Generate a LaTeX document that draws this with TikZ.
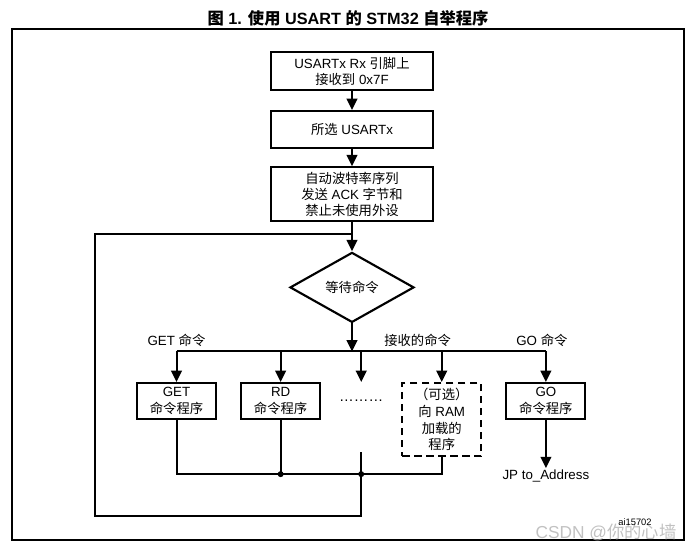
\documentclass[tikz,border=0pt]{standalone}
\usepackage{fontspec}
\setmainfont{Liberation Sans}
\newfontfamily\cjk{Noto Sans CJK SC}
\usetikzlibrary{shapes.geometric, arrows.meta, positioning, calc}

\newcommand{\zh}[1]{{\cjk #1}}

\begin{document}
\begin{tikzpicture}[
    x=0.75pt, y=-0.75pt,
    font=\fontsize{10}{12}\selectfont,
    stepbox/.style={rectangle, draw=black, line width=1.6pt, minimum width=121.5pt, align=center, inner sep=1pt},
    cmdbox/.style={rectangle, draw=black, line width=1.6pt, minimum width=59.25pt, minimum height=27pt, align=center, inner sep=1pt, anchor=north, font=\fontsize{10}{12.5}\selectfont},
    optbox/.style={cmdbox, dash pattern=on 5.5pt off 3.5pt, minimum height=54.75pt},
    decision/.style={diamond, draw=black, line width=1.6pt, minimum width=93pt, minimum height=52.5pt, inner sep=0pt},
    link/.style={line width=1.5pt, draw=black},
    arrow/.style={link, -{Triangle[length=8.5pt, width=8pt]}},
    junction/.style={circle, fill=black, inner sep=0pt, minimum size=4.5pt},
    caption/.style={inner sep=1pt}
]
    \useasboundingbox (0,0) rectangle (693,548);

    % Title and frame
    \node[font=\bfseries\fontsize{12.2}{14}\selectfont] (title) at (348,18) {\zh{图} 1. \zh{使用} USART \zh{的} STM32 \zh{自举程序}};
    \draw[line width=1.1pt] (12,29) rectangle (684,540);

    % Main column
    \node[stepbox, minimum height=28.5pt] (rxpin) at (352,71) {USARTx Rx \zh{引脚上}\\\zh{接收到} 0x7F};
    \node[stepbox, minimum height=27.75pt, below=14.25pt of rxpin] (select) {\zh{所选} USARTx};
    \node[stepbox, minimum height=40.5pt, below=12.75pt of select] (autobaud) {\zh{自动波特率序列}\\\zh{发送} ACK \zh{字节和}\\\zh{禁止未使用外设}};
    \node[decision, below=21.75pt of autobaud] (wait) {\zh{等待命令}};
    \coordinate[below=9pt of autobaud.south] (loopin);
    \coordinate[below=21pt of wait.south] (split);

    % Command routines
    \node[cmdbox] (get) at (176.5,382) {GET\\\zh{命令程序}};
    \node[cmdbox, right=17.25pt of get.north east, anchor=north west] (rd) {RD\\\zh{命令程序}};
    \node[optbox, right=60pt of rd.north east, anchor=north west] (ram) {\zh{（可选）}\\\zh{向} RAM\\\zh{加载的}\\\zh{程序}};
    \node[cmdbox, right=17.25pt of ram.north east, anchor=north west] (go) {GO\\\zh{命令程序}};
    \node[font=\fontsize{11}{12}\selectfont] (dots) at ($(rd.east)!0.5!(ram.west |- rd.east)$) {………};
    \node[below=36pt of go.south, caption] (jp) {JP to\_Address};

    % Labels on the command line
    \node[caption, above=2.5pt] at (get.north |- split) {GET \zh{命令}};
    \node[caption, above=2.5pt] at ($(dots |- split)!0.7!(ram.north |- split)$) {\zh{接收的命令}};
    \node[caption, above=2.5pt] at ($(go.north |- split)+(-4,0)$) {GO \zh{命令}};

    % Connections
    \draw[arrow] (rxpin) -- (select);
    \draw[arrow] (select) -- (autobaud);
    \draw[arrow] (autobaud) -- (wait);
    \draw[arrow] (wait) -- (split);
    \draw[link] (get.north |- split) -- (go.north |- split);
    \foreach \n in {get, rd, ram, go}
        \draw[arrow] (\n.north |- split) -- (\n.north);
    \draw[arrow] (dots |- split) -- (dots |- get.north);
    \draw[arrow] (go) -- (jp);

    % Return path
    \coordinate[below=40.5pt of get.south] (merge);
    \coordinate[below=38.25pt of dots.center] (dotsout);
    \coordinate (loopcorner) at (95,516);
    \draw[link] (get.south) |- (ram.south |- merge) -- (ram.south);
    \draw[link] (rd.south) -- (rd.south |- merge);
    \draw[link] (dotsout) |- (loopcorner) |- (loopin);
    \node[junction] at (rd.south |- merge) {};
    \node[junction] at (dots |- merge) {};

    % Marks
    \node[text=gray!60, opacity=0.8, font=\fontsize{13}{14}\selectfont] (mark) at (606,532) {CSDN @\zh{你的心墙}};
    \node[font=\fontsize{7}{8}\selectfont] (ref) at (635,522) {ai15702};
\end{tikzpicture}
\end{document}
